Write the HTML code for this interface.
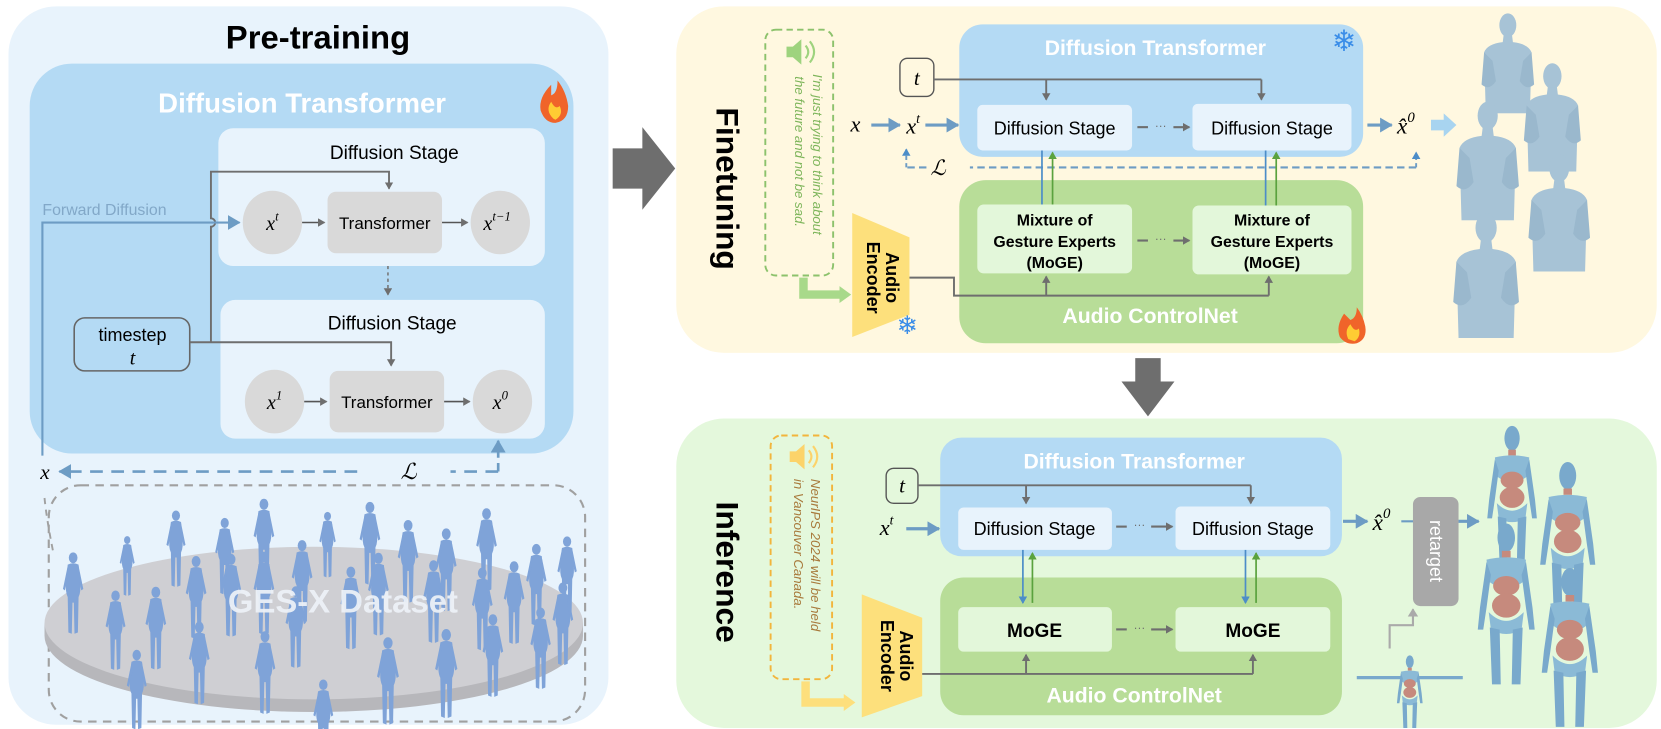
<!DOCTYPE html>
<html><head><meta charset="utf-8"><style>
html,body{margin:0;padding:0;background:#fff;}
svg{display:block;}
text{font-family:"Liberation Sans",sans-serif;}
.m{font-family:"Liberation Serif",serif;font-style:italic;}
</style></head><body>
<svg width="1661" height="729" viewBox="0 0 1567 688" preserveAspectRatio="none" xmlns="http://www.w3.org/2000/svg">
<defs>
<marker id="ag" markerWidth="8" markerHeight="8" refX="6" refY="4" orient="auto" markerUnits="userSpaceOnUse"><path d="M0,0 L7,4 L0,8 z" fill="#6e6e6e"/></marker>
<marker id="ab" markerWidth="14" markerHeight="14" refX="11" refY="7" orient="auto" markerUnits="userSpaceOnUse"><path d="M0,0 L12,7 L0,14 z" fill="#6d9cc4"/></marker>
<marker id="ab2" markerWidth="8" markerHeight="8" refX="6" refY="4" orient="auto" markerUnits="userSpaceOnUse"><path d="M0,0 L7,4 L0,8 z" fill="#4c8dc8"/></marker>
<marker id="agr" markerWidth="8" markerHeight="8" refX="6" refY="4" orient="auto" markerUnits="userSpaceOnUse"><path d="M0,0 L7,4 L0,8 z" fill="#5aa23e"/></marker>
<marker id="agl" markerWidth="10" markerHeight="10" refX="7" refY="5" orient="auto" markerUnits="userSpaceOnUse"><path d="M0,0 L8,5 L0,10 z" fill="#aaaaaa"/></marker>
<symbol id="p" viewBox="0 0 20 64">
<ellipse cx="10" cy="5" rx="3.2" ry="4" fill="#7fa3d8"/>
<path d="M6,10 Q10,8 14,10 L15,22 Q16,30 14,34 L13.5,60 L11,61 L10.5,38 L9.5,38 L9,61 L6.5,60 L6,34 Q4,30 5,22 Z" fill="#7fa3d8"/>
<path d="M6,11 L2.5,28 L4,29 L7,16 Z M14,11 L17.5,28 L16,29 L13,16 Z" fill="#7fa3d8"/>
</symbol>
<symbol id="bust" viewBox="0 0 64 120">
<ellipse cx="32" cy="16" rx="10" ry="14" fill="#a7c3d6"/>
<path d="M27,28 L37,28 L38,36 Q56,38 60,48 L58,120 L6,120 L4,48 Q8,38 26,36 Z" fill="#a7c3d6"/>
<path d="M4,48 L1,86 Q10,94 18,82 L14,58 Z M60,48 L63,86 Q54,94 46,82 L50,58 Z" fill="#9ab8cd"/>
</symbol>
<symbol id="robot" viewBox="0 0 60 150">
<ellipse cx="30" cy="14" rx="8" ry="13" fill="#79a9cc"/>
<rect x="26" y="26" width="8" height="6" fill="#c68a7d"/>
<path d="M12,34 Q30,30 48,34 L46,54 Q30,66 14,54 Z" fill="#8bbad6"/>
<ellipse cx="30" cy="58" rx="12" ry="9" fill="#c68a7d"/>
<ellipse cx="30" cy="76" rx="13" ry="11" fill="#c68a7d"/>
<path d="M14,82 Q30,98 46,82 L44,98 Q30,106 16,98 Z" fill="#8bbad6"/>
<path d="M15,96 L24,98 L25,148 L17,148 Z M45,96 L36,98 L35,148 L43,148 Z" fill="#79a9cc"/>
<path d="M12,36 L6,78 L4,98 L9,98 L12,78 L16,48 Z M48,36 L54,78 L56,98 L51,98 L48,78 L44,48 Z" fill="#79a9cc"/>
</symbol>
</defs>

<!-- LEFT PANEL -->
<rect x="8" y="6" width="566" height="678" rx="45" fill="#e8f3fc"/>
<text x="300" y="46" font-size="31" font-weight="bold" text-anchor="middle" fill="#000">Pre-training</text>
<rect x="28" y="60" width="513" height="368" rx="40" fill="#b4daf4"/>
<text x="285" y="106" font-size="26" font-weight="bold" text-anchor="middle" fill="#fff">Diffusion Transformer</text>
<path d="M520,80 Q508,92 510,104 Q514,116 524,116 Q536,114 536,100 Q534,86 526,76 Q526,88 520,90 Z" fill="#f0642a"/>
<path d="M522,112 Q514,104 520,96 Q524,104 528,100 Q532,108 524,113 Z" fill="#ffcc33"/>

<rect x="206" y="121" width="308" height="130" rx="14" fill="#e8f3fc"/>
<text x="372" y="150" font-size="18" text-anchor="middle">Diffusion Stage</text>
<ellipse cx="257" cy="210" rx="28" ry="30" fill="#d9d9d9"/>
<text x="257" y="217" font-size="19" text-anchor="middle" class="m">x<tspan font-size="12" dy="-9">t</tspan></text>
<rect x="309" y="181" width="108" height="58" rx="8" fill="#d9d9d9"/>
<text x="363" y="216" font-size="16" text-anchor="middle">Transformer</text>
<ellipse cx="472" cy="210" rx="28" ry="30" fill="#d9d9d9"/>
<text x="469" y="217" font-size="19" text-anchor="middle" class="m">x<tspan font-size="12" dy="-9">t−1</tspan></text>
<line x1="285" y1="210" x2="306" y2="210" stroke="#555" stroke-width="1.5" marker-end="url(#ag)"/>
<line x1="417" y1="210" x2="441" y2="210" stroke="#555" stroke-width="1.5" marker-end="url(#ag)"/>
<line x1="366" y1="251" x2="366" y2="278" stroke="#777" stroke-width="1.5" stroke-dasharray="3,3" marker-end="url(#ag)"/>

<rect x="208" y="283" width="306" height="131" rx="14" fill="#e8f3fc"/>
<text x="370" y="311" font-size="18" text-anchor="middle">Diffusion Stage</text>
<ellipse cx="259" cy="379" rx="28" ry="30" fill="#d9d9d9"/>
<text x="259" y="386" font-size="19" text-anchor="middle" class="m">x<tspan font-size="12" dy="-9">1</tspan></text>
<rect x="311" y="350" width="108" height="58" rx="8" fill="#d9d9d9"/>
<text x="365" y="385" font-size="16" text-anchor="middle">Transformer</text>
<ellipse cx="474" cy="379" rx="28" ry="30" fill="#d9d9d9"/>
<text x="472" y="386" font-size="19" text-anchor="middle" class="m">x<tspan font-size="12" dy="-9">0</tspan></text>
<line x1="287" y1="379" x2="308" y2="379" stroke="#555" stroke-width="1.5" marker-end="url(#ag)"/>
<line x1="419" y1="379" x2="443" y2="379" stroke="#555" stroke-width="1.5" marker-end="url(#ag)"/>

<rect x="70" y="300" width="109" height="50" rx="10" fill="#b4daf4" stroke="#666" stroke-width="1.5"/>
<text x="125" y="322" font-size="17" text-anchor="middle">timestep</text>
<text x="125" y="344" font-size="19" text-anchor="middle" class="m">t</text>
<path d="M179,323 L369,323 L369,345" fill="none" stroke="#6e6e6e" stroke-width="1.8" marker-end="url(#ag)"/>
<path d="M199,323 L199,214 A4,4 0 0 0 199,206 L199,162 L367,162 L367,178" fill="none" stroke="#6e6e6e" stroke-width="1.8" marker-end="url(#ag)"/>
<text x="40" y="203" font-size="15" fill="#82a8c8">Forward Diffusion</text>
<path d="M40,430 L40,210 L226,210" fill="none" stroke="#6d9cc4" stroke-width="2" marker-end="url(#ab)"/>
<text x="38" y="452" font-size="20" class="m">x</text>
<line x1="470" y1="445" x2="470" y2="416" stroke="#6d9cc4" stroke-width="2.5" stroke-dasharray="8,5" marker-end="url(#ab)"/>
<line x1="470" y1="445" x2="425" y2="445" stroke="#6d9cc4" stroke-width="2.5" stroke-dasharray="12,8"/>
<line x1="337" y1="445" x2="56" y2="445" stroke="#6d9cc4" stroke-width="2.5" stroke-dasharray="12,8" marker-end="url(#ab)"/>
<text x="378" y="452" font-size="21" class="m">ℒ</text>

<rect x="46" y="458" width="506" height="223" rx="30" fill="none" stroke="#a0a0a0" stroke-width="2" stroke-dasharray="8,6"/>
<path d="M42,470 Q44,490 50,520" fill="none" stroke="#a0a0a0" stroke-width="1.8" stroke-dasharray="6,5"/>
<path d="M42,588 L42,600 A254,72 0 0 0 550,600 L550,588" fill="#b7b7bb"/>
<ellipse cx="296" cy="588" rx="254" ry="72" fill="#cfcfd3"/>
<g>
<use href="#p" x="56" y="520" width="26" height="82"/>
<use href="#p" x="108" y="505" width="24" height="60"/>
<use href="#p" x="154" y="478" width="24" height="82"/>
<use href="#p" x="200" y="482" width="24" height="88"/>
<use href="#p" x="236" y="468" width="26" height="86"/>
<use href="#p" x="296" y="482" width="26" height="66"/>
<use href="#p" x="336" y="468" width="26" height="92"/>
<use href="#p" x="372" y="488" width="26" height="86"/>
<use href="#p" x="408" y="496" width="26" height="86"/>
<use href="#p" x="446" y="478" width="26" height="84"/>
<use href="#p" x="493" y="512" width="26" height="82"/>
<use href="#p" x="522" y="505" width="26" height="78"/>
<use href="#p" x="96" y="556" width="26" height="80"/>
<use href="#p" x="134" y="552" width="26" height="84"/>
<use href="#p" x="172" y="522" width="26" height="86"/>
<use href="#p" x="205" y="520" width="26" height="86"/>
<use href="#p" x="236" y="516" width="26" height="90"/>
<use href="#p" x="272" y="504" width="26" height="92"/>
<use href="#p" x="318" y="530" width="26" height="90"/>
<use href="#p" x="344" y="516" width="26" height="92"/>
<use href="#p" x="396" y="525" width="26" height="88"/>
<use href="#p" x="442" y="532" width="26" height="88"/>
<use href="#p" x="472" y="524" width="26" height="92"/>
<use href="#p" x="518" y="548" width="26" height="84"/>
<use href="#p" x="116" y="612" width="26" height="80"/>
<use href="#p" x="175" y="582" width="26" height="90"/>
<use href="#p" x="237" y="592" width="26" height="88"/>
<use href="#p" x="290" y="640" width="30" height="80"/>
<use href="#p" x="352" y="600" width="28" height="88"/>
<use href="#p" x="407" y="592" width="28" height="90"/>
<use href="#p" x="452" y="575" width="26" height="90"/>
<use href="#p" x="497" y="572" width="26" height="82"/>
<use href="#p" x="266" y="552" width="26" height="82"/>
</g>
<text x="215" y="578" font-size="31" font-weight="bold" fill="#eef2f7" fill-opacity="0.92">GES-X Dataset</text>

<!-- big arrows -->
<path d="M578,140 L606,140 L606,120 L637,159 L606,198 L606,178 L578,178 Z" fill="#6e6e6e"/>
<path d="M1071,338 L1095,338 L1095,360 L1108,360 L1083,393 L1058,360 L1071,360 Z" fill="#6e6e6e"/>

<!-- FINETUNING PANEL -->
<rect x="638" y="6" width="925" height="327" rx="45" fill="#fff8e0"/>
<text transform="translate(676,178) rotate(90)" font-size="30" font-weight="bold" text-anchor="middle">Finetuning</text>
<rect x="722" y="28" width="64" height="232" rx="10" fill="none" stroke="#8cc26c" stroke-width="1.8" stroke-dasharray="6,4"/>
<path d="M742,44 L748,44 L756,37 L756,61 L748,54 L742,54 Z" fill="#9ed37e"/>
<path d="M760,43 Q765,49 760,55 M764,39 Q772,49 764,59" fill="none" stroke="#9ed37e" stroke-width="2"/>
<text transform="translate(767,70) rotate(90)" font-size="12.5" font-style="italic" fill="#7db55a">I'm just trying to think about</text>
<text transform="translate(750,72) rotate(90)" font-size="12.5" font-style="italic" fill="#7db55a">the future and not be sad.</text>
<path d="M758,262 L758,278 L795,278" fill="none" stroke="#a8d98a" stroke-width="8"/>
<path d="M792,270 L803,278 L792,286 Z" fill="#a8d98a"/>
<path d="M804,201 L858,224 L858,297 L804,318 Z" fill="#fde07c"/>
<text transform="translate(836,262) rotate(90)" font-size="17" font-weight="bold" text-anchor="middle">Audio</text>
<text transform="translate(818,262) rotate(90)" font-size="17" font-weight="bold" text-anchor="middle">Encoder</text>
<text x="856" y="315" font-size="24" fill="#3a8de8" text-anchor="middle">❄</text>

<rect x="905" y="23" width="381" height="125" rx="22" fill="#b4daf4"/>
<text x="1090" y="52" font-size="20" font-weight="bold" fill="#fff" text-anchor="middle">Diffusion Transformer</text>
<text x="1268" y="48" font-size="28" fill="#3a8de8" text-anchor="middle">❄</text>
<rect x="849" y="55" width="32" height="36" rx="7" fill="#fff8e0" stroke="#555" stroke-width="1.3"/>
<text x="865" y="80" font-size="20" class="m" text-anchor="middle">t</text>
<path d="M881,75 L1190,75" fill="none" stroke="#6e6e6e" stroke-width="1.8"/>
<line x1="987" y1="75" x2="987" y2="94" stroke="#6e6e6e" stroke-width="1.8" marker-end="url(#ag)"/>
<line x1="1190" y1="75" x2="1190" y2="94" stroke="#6e6e6e" stroke-width="1.8" marker-end="url(#ag)"/>
<rect x="922" y="99" width="146" height="43" rx="5" fill="#e8f3fc"/>
<text x="995" y="127" font-size="17" text-anchor="middle">Diffusion Stage</text>
<rect x="1125" y="98" width="150" height="44" rx="5" fill="#e8f3fc"/>
<text x="1200" y="127" font-size="17" text-anchor="middle">Diffusion Stage</text>
<line x1="1073" y1="120" x2="1083" y2="120" stroke="#6e6e6e" stroke-width="2"/>
<text x="1095" y="122" font-size="11" fill="#6e6e6e" text-anchor="middle">···</text>
<line x1="1107" y1="120" x2="1122" y2="120" stroke="#6e6e6e" stroke-width="2" marker-end="url(#ag)"/>
<text x="807" y="124" font-size="21" class="m" text-anchor="middle">x</text>
<line x1="822" y1="118" x2="849" y2="118" stroke="#6d9cc4" stroke-width="3" marker-end="url(#ab)"/>
<text x="855" y="126" font-size="21" class="m">x<tspan font-size="13" dy="-10">t</tspan></text>
<line x1="873" y1="118" x2="904" y2="118" stroke="#6d9cc4" stroke-width="3" marker-end="url(#ab)"/>
<line x1="1290" y1="118" x2="1313" y2="118" stroke="#6d9cc4" stroke-width="3" marker-end="url(#ab)"/>
<text x="1318" y="126" font-size="22" class="m">x̂<tspan font-size="14" dy="-11">0</tspan></text>
<path d="M1350,113 L1362,113 L1362,107 L1374,118 L1362,129 L1362,123 L1350,123 Z" fill="#a8d4f0"/>
<path d="M1336,158 L1336,144" stroke="#6d9cc4" stroke-width="1.8" stroke-dasharray="4,3" marker-end="url(#ab2)" fill="none"/>
<line x1="1336" y1="158" x2="915" y2="158" stroke="#6d9cc4" stroke-width="2" stroke-dasharray="7,4"/>
<line x1="874" y1="158" x2="855" y2="158" stroke="#6d9cc4" stroke-width="2" stroke-dasharray="7,4"/>
<path d="M855,158 L855,141" stroke="#6d9cc4" stroke-width="1.8" stroke-dasharray="4,3" marker-end="url(#ab2)" fill="none"/>
<text x="885" y="165" font-size="20" class="m" text-anchor="middle">ℒ</text>

<rect x="905" y="170" width="381" height="154" rx="25" fill="#b8dd98"/>
<line x1="983" y1="142" x2="983" y2="203" stroke="#4c8dc8" stroke-width="1.6" marker-end="url(#ab2)"/>
<line x1="993" y1="203" x2="993" y2="144" stroke="#5aa23e" stroke-width="1.6" marker-end="url(#agr)"/>
<line x1="1194" y1="142" x2="1194" y2="203" stroke="#4c8dc8" stroke-width="1.6" marker-end="url(#ab2)"/>
<line x1="1204" y1="203" x2="1204" y2="144" stroke="#5aa23e" stroke-width="1.6" marker-end="url(#agr)"/>
<rect x="922" y="193" width="146" height="65" rx="6" fill="#e3f7da"/>
<text x="995" y="213" font-size="15" font-weight="bold" text-anchor="middle">Mixture of</text>
<text x="995" y="233" font-size="15" font-weight="bold" text-anchor="middle">Gesture Experts</text>
<text x="995" y="253" font-size="15" font-weight="bold" text-anchor="middle">(MoGE)</text>
<rect x="1125" y="194" width="150" height="65" rx="6" fill="#e3f7da"/>
<text x="1200" y="213" font-size="15" font-weight="bold" text-anchor="middle">Mixture of</text>
<text x="1200" y="233" font-size="15" font-weight="bold" text-anchor="middle">Gesture Experts</text>
<text x="1200" y="253" font-size="15" font-weight="bold" text-anchor="middle">(MoGE)</text>
<line x1="1073" y1="227" x2="1083" y2="227" stroke="#6e6e6e" stroke-width="2"/>
<text x="1095" y="229" font-size="11" fill="#6e6e6e" text-anchor="middle">···</text>
<line x1="1107" y1="227" x2="1122" y2="227" stroke="#6e6e6e" stroke-width="2" marker-end="url(#ag)"/>
<path d="M858,262 L900,262 L900,279 L1197,279" fill="none" stroke="#6e6e6e" stroke-width="1.8"/>
<line x1="987" y1="279" x2="987" y2="261" stroke="#6e6e6e" stroke-width="1.8" marker-end="url(#ag)"/>
<line x1="1197" y1="279" x2="1197" y2="261" stroke="#6e6e6e" stroke-width="1.8" marker-end="url(#ag)"/>
<text x="1085" y="305" font-size="20" font-weight="bold" fill="#fff" text-anchor="middle">Audio ControlNet</text>
<path d="M1268,296 Q1260,308 1264,318 Q1270,326 1280,324 Q1290,320 1288,308 Q1286,298 1280,290 Q1280,300 1274,302 Z" fill="#f0642a"/>
<path d="M1272,320 Q1268,312 1274,306 Q1278,314 1282,310 Q1284,318 1278,322 Z" fill="#ffcc33"/>

<use href="#bust" x="1392" y="11" width="61" height="96"/>
<use href="#bust" x="1434" y="58" width="61" height="104"/>
<use href="#bust" x="1373" y="94" width="61" height="114"/>
<use href="#bust" x="1441" y="139" width="60" height="122"/>
<use href="#bust" x="1370" y="193" width="64" height="132"/>

<!-- INFERENCE PANEL -->
<rect x="638" y="395" width="925" height="292" rx="45" fill="#e4f8dc"/>
<text transform="translate(676,540) rotate(90)" font-size="30" font-weight="bold" text-anchor="middle">Inference</text>
<rect x="727" y="411" width="58" height="230" rx="10" fill="none" stroke="#f2b53c" stroke-width="1.8" stroke-dasharray="6,4"/>
<path d="M745,426 L751,426 L759,419 L759,443 L751,436 L745,436 Z" fill="#fcd36a"/>
<path d="M763,425 Q768,431 763,437 M767,421 Q775,431 767,441" fill="none" stroke="#fcd36a" stroke-width="2"/>
<text transform="translate(765,452) rotate(90)" font-size="12.5" font-style="italic" fill="#a87a3c">NeurIPS 2024 will be held</text>
<text transform="translate(749,452) rotate(90)" font-size="12.5" font-style="italic" fill="#a87a3c">in Vancouver Canada.</text>
<path d="M760,643 L760,663 L798,663" fill="none" stroke="#fddf7c" stroke-width="8"/>
<path d="M796,655 L807,663 L796,671 Z" fill="#fddf7c"/>
<path d="M813,561 L870,583 L870,657 L813,677 Z" fill="#fde07c"/>
<text transform="translate(849,619) rotate(90)" font-size="17" font-weight="bold" text-anchor="middle">Audio</text>
<text transform="translate(831,619) rotate(90)" font-size="17" font-weight="bold" text-anchor="middle">Encoder</text>

<rect x="887" y="413" width="379" height="112" rx="20" fill="#b4daf4"/>
<text x="1070" y="442" font-size="20" font-weight="bold" fill="#fff" text-anchor="middle">Diffusion Transformer</text>
<rect x="836" y="442" width="30" height="33" rx="7" fill="#e4f8dc" stroke="#555" stroke-width="1.3"/>
<text x="851" y="465" font-size="20" class="m" text-anchor="middle">t</text>
<path d="M866,458 L1180,458" fill="none" stroke="#6e6e6e" stroke-width="1.8"/>
<line x1="968" y1="458" x2="968" y2="475" stroke="#6e6e6e" stroke-width="1.8" marker-end="url(#ag)"/>
<line x1="1180" y1="458" x2="1180" y2="475" stroke="#6e6e6e" stroke-width="1.8" marker-end="url(#ag)"/>
<rect x="904" y="479" width="145" height="40" rx="5" fill="#e8f3fc"/>
<text x="976" y="505" font-size="17" text-anchor="middle">Diffusion Stage</text>
<rect x="1109" y="478" width="146" height="41" rx="5" fill="#e8f3fc"/>
<text x="1182" y="505" font-size="17" text-anchor="middle">Diffusion Stage</text>
<line x1="1053" y1="497" x2="1063" y2="497" stroke="#6e6e6e" stroke-width="2"/>
<text x="1075" y="499" font-size="11" fill="#6e6e6e" text-anchor="middle">···</text>
<line x1="1086" y1="497" x2="1106" y2="497" stroke="#6e6e6e" stroke-width="2" marker-end="url(#ag)"/>
<text x="830" y="505" font-size="21" class="m">x<tspan font-size="13" dy="-10">t</tspan></text>
<line x1="855" y1="499" x2="886" y2="499" stroke="#6d9cc4" stroke-width="3" marker-end="url(#ab)"/>
<line x1="1267" y1="492" x2="1290" y2="492" stroke="#6d9cc4" stroke-width="3" marker-end="url(#ab)"/>
<text x="1295" y="500" font-size="22" class="m">x̂<tspan font-size="14" dy="-11">0</tspan></text>
<line x1="1322" y1="492" x2="1334" y2="492" stroke="#6d9cc4" stroke-width="2"/>
<rect x="1333" y="469" width="43" height="103" rx="7" fill="#a8a8a8"/>
<text transform="translate(1349,520) rotate(90)" font-size="17" fill="#fff" text-anchor="middle">retarget</text>
<line x1="1376" y1="492" x2="1395" y2="492" stroke="#6d9cc4" stroke-width="3" marker-end="url(#ab)"/>
<path d="M1311,612 L1311,590 L1333,590 L1333,575" fill="none" stroke="#aaaaaa" stroke-width="2" marker-end="url(#agl)"/>

<rect x="887" y="545" width="379" height="130" rx="22" fill="#b8dd98"/>
<line x1="965" y1="519" x2="965" y2="569" stroke="#4c8dc8" stroke-width="1.6" marker-end="url(#ab2)"/>
<line x1="974" y1="569" x2="974" y2="522" stroke="#5aa23e" stroke-width="1.6" marker-end="url(#agr)"/>
<line x1="1175" y1="519" x2="1175" y2="569" stroke="#4c8dc8" stroke-width="1.6" marker-end="url(#ab2)"/>
<line x1="1185" y1="569" x2="1185" y2="522" stroke="#5aa23e" stroke-width="1.6" marker-end="url(#agr)"/>
<rect x="904" y="573" width="145" height="42" rx="5" fill="#e3f7da"/>
<text x="976" y="601" font-size="18" font-weight="bold" text-anchor="middle">MoGE</text>
<rect x="1109" y="573" width="146" height="42" rx="5" fill="#e3f7da"/>
<text x="1182" y="601" font-size="18" font-weight="bold" text-anchor="middle">MoGE</text>
<line x1="1053" y1="594" x2="1063" y2="594" stroke="#6e6e6e" stroke-width="2"/>
<text x="1075" y="596" font-size="11" fill="#6e6e6e" text-anchor="middle">···</text>
<line x1="1086" y1="594" x2="1106" y2="594" stroke="#6e6e6e" stroke-width="2" marker-end="url(#ag)"/>
<path d="M870,636 L1182,636" fill="none" stroke="#6e6e6e" stroke-width="1.8"/>
<line x1="968" y1="636" x2="968" y2="618" stroke="#6e6e6e" stroke-width="1.8" marker-end="url(#ag)"/>
<line x1="1182" y1="636" x2="1182" y2="618" stroke="#6e6e6e" stroke-width="1.8" marker-end="url(#ag)"/>
<text x="1070" y="663" font-size="20" font-weight="bold" fill="#fff" text-anchor="middle">Audio ControlNet</text>

<use href="#robot" x="1399" y="401" width="55" height="135"/>
<use href="#robot" x="1449" y="435" width="60" height="150"/>
<use href="#robot" x="1390" y="493" width="62" height="155"/>
<use href="#robot" x="1450" y="535" width="62" height="153"/>
<g transform="translate(1280,618)">
<path d="M0,20 L100,20 L100,23 L0,23 Z" fill="#79a9cc"/>
<use href="#robot" x="36" y="0" width="28" height="70"/>
</g>
</svg>
</body></html>
